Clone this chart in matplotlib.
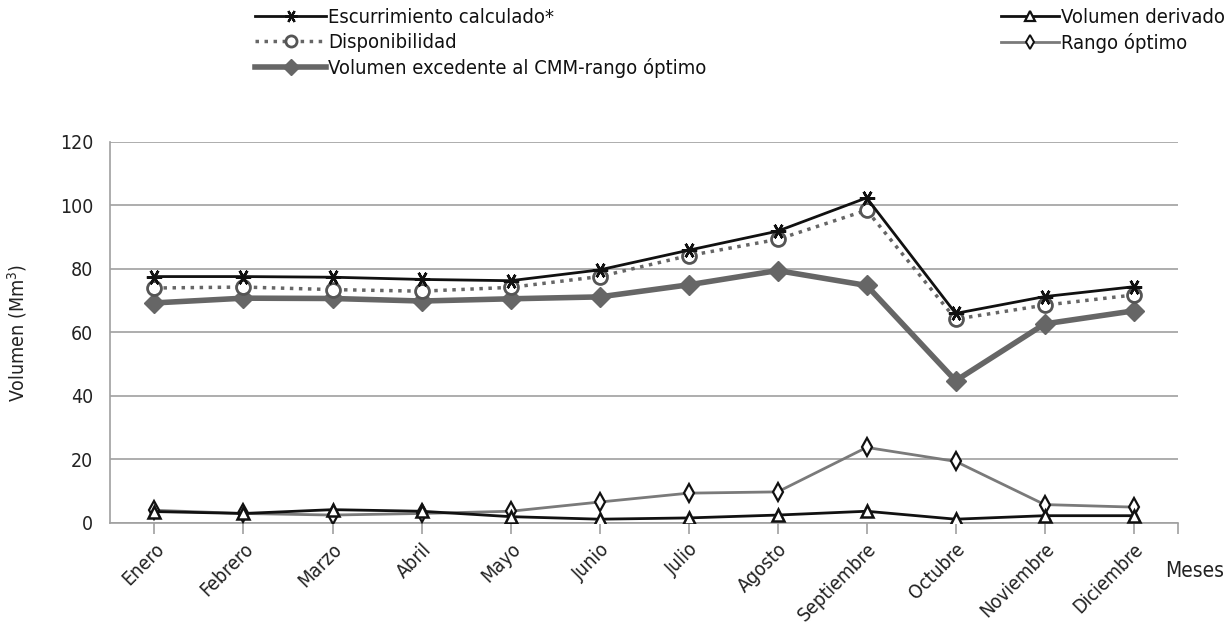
import numpy as np
import matplotlib
matplotlib.use('Agg')
import matplotlib.pyplot as plt
from matplotlib.lines import Line2D

plt.rcParams['font.family'] = ['DejaVu Sans']
plt.rcParams['font.stretch'] = 'condensed'

meses = ['Enero', 'Febrero', 'Marzo', 'Abril', 'Mayo', 'Junio', 'Julio',
         'Agosto', 'Septiembre', 'Octubre', 'Noviembre', 'Diciembre']

# values (Mm3)
escurrimiento = [77.6, 77.6, 77.4, 76.7, 76.3, 79.7, 85.9, 91.9, 102.4, 66.0, 71.3, 74.4]
disponibilidad = [74.0, 74.3, 73.5, 73.0, 74.2, 77.6, 84.2, 89.3, 98.5, 64.2, 68.6, 71.8]
vol_excedente = [69.3, 70.8, 70.7, 69.9, 70.6, 71.2, 75.0, 79.5, 74.8, 44.8, 62.7, 66.8]
vol_derivado = [3.6, 3.0, 4.2, 3.7, 2.0, 1.2, 1.6, 2.5, 3.7, 1.2, 2.3, 2.3]
rango_optimo = [4.0, 3.0, 2.5, 3.0, 3.7, 6.6, 9.4, 9.8, 23.8, 19.4, 5.8, 5.0]

x = np.arange(len(meses))
asterisk = (6, 2, 90)

fig = plt.figure(figsize=(12.26, 6.28), dpi=100)
ax = fig.add_axes([0.0897, 0.1672, 0.8713, 0.6068])

ax.plot(x, rango_optimo, color='#7a7a7a', lw=2, marker='d', ms=9,
        mfc='white', mec='#111111', mew=1.6, zorder=3)
ax.plot(x, vol_derivado, color='#111111', lw=2, marker='^', ms=9,
        mfc='white', mec='#111111', mew=1.8, zorder=4)
ax.plot(x, vol_excedente, color='#666666', lw=4, marker='D', ms=10,
        mfc='#666666', mec='#666666', zorder=5)
ax.plot(x, disponibilidad, color='#666666', lw=2.5, ls=(0, (1, 1.6)), marker='o', ms=10,
        mfc='white', mec='#555555', mew=2, zorder=6)
ax.plot(x, escurrimiento, color='#111111', lw=2, marker=asterisk, ms=11,
        mec='#111111', mew=1.8, zorder=7)

ax.set_xlim(-0.5, 11.5)
ax.set_ylim(0, 120)
ax.set_yticks(np.arange(0, 121, 20))
ax.yaxis.grid(True, color='#a0a0a0', lw=1.2)
ax.set_axisbelow(True)
ax.tick_params(axis='y', length=0, labelsize=14, labelcolor='#222222', pad=12)
ax.set_xticks(x)
ax.set_xticklabels(meses, rotation=45, ha='right', rotation_mode='anchor',
                   fontsize=14, color='#222222')
ax.set_xticks([11.5], minor=True)
ax.tick_params(axis='x', which='both', length=8, color='#a0a0a0', width=1.2, pad=4)
for side in ['top', 'right']:
    ax.spines[side].set_visible(False)
for side in ['left', 'bottom']:
    ax.spines[side].set_color('#a0a0a0')
    ax.spines[side].set_linewidth(1.2)

ax.set_ylabel('Volumen (Mm$^3$)', fontsize=14, color='#222222', labelpad=22)
fig.text(0.950, 0.090, 'Meses', fontsize=15, color='#222222', ha='left', va='center')

h_esc = Line2D([], [], color='#111111', lw=2, marker=asterisk, ms=9, mew=1.6)
h_disp = Line2D([], [], color='#666666', lw=2.5, ls=(0, (1, 1.6)), marker='o', ms=8,
                mfc='white', mec='#555555', mew=2)
h_exc = Line2D([], [], color='#666666', lw=4, marker='D', ms=8, mfc='#666666', mec='#666666')
h_der = Line2D([], [], color='#111111', lw=2, marker='^', ms=7, mfc='white', mec='#111111', mew=1.6)
h_ran = Line2D([], [], color='#7a7a7a', lw=2, marker='d', ms=7, mfc='white', mec='#111111', mew=1.4)

leg_kw = dict(frameon=False, fontsize=14.5, handletextpad=0.1,
              labelspacing=0.3, borderpad=0, labelcolor='#111111')
fig.legend([h_esc, h_disp, h_exc],
           ['Escurrimiento calculado*', 'Disponibilidad', 'Volumen excedente al CMM-rango óptimo'],
           loc='upper left', bbox_to_anchor=(0.200, 1.004), handlelength=3.5, **leg_kw)
fig.legend([h_der, h_ran], ['Volumen derivado', 'Rango óptimo'],
           loc='upper left', bbox_to_anchor=(0.808, 1.004), handlelength=2.9, **leg_kw)

fig.savefig('out.png', dpi=100)
